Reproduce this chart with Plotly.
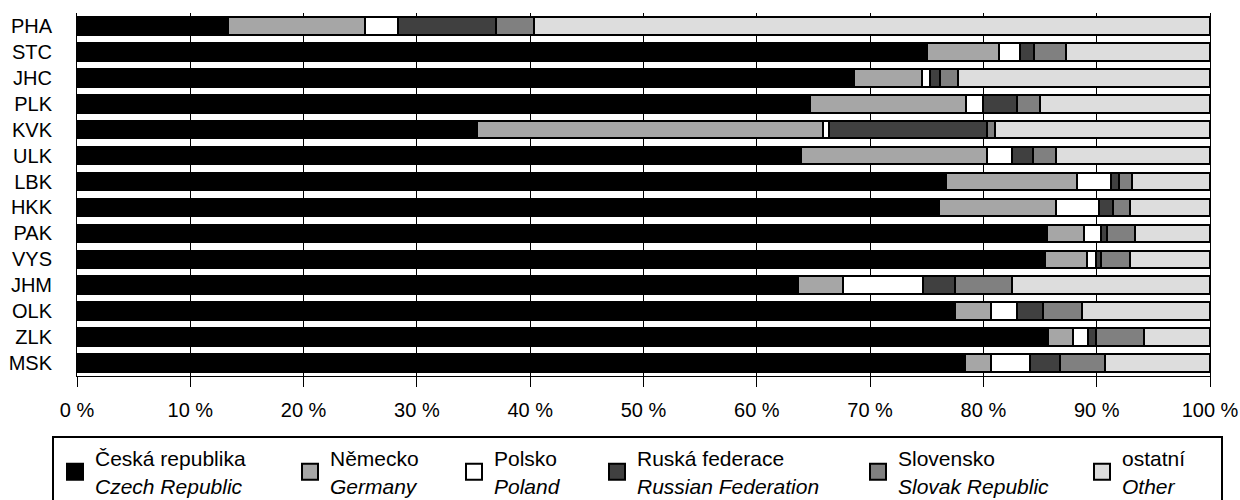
import plotly.graph_objects as go

regions = ["PHA", "STC", "JHC", "PLK", "KVK", "ULK", "LBK", "HKK", "PAK", "VYS", "JHM", "OLK", "ZLK", "MSK"]

czech   = [13.3, 75.0, 68.6, 64.7, 35.3, 63.9, 76.7, 76.1, 85.6, 85.4, 63.6, 77.5, 85.7, 78.4]
germany = [12.1,  6.4,  6.0, 13.8, 30.5, 16.4, 11.6, 10.3,  3.3,  3.7,  4.0,  3.2,  2.2,  2.3]
poland  = [ 2.9,  1.8,  0.7,  1.5,  0.6,  2.2,  3.0,  3.8,  1.5,  0.8,  7.1,  2.3,  1.3,  3.4]
russia  = [ 8.7,  1.3,  0.9,  3.0, 13.9,  1.9,  0.7,  1.2,  0.5,  0.5,  2.8,  2.3,  0.7,  2.7]
slovak  = [ 3.3,  2.8,  1.6,  2.0,  0.7,  2.0,  1.1,  1.5,  2.5,  2.5,  5.0,  3.4,  4.3,  3.9]
other   = [59.7, 12.7, 22.2, 15.0, 19.0, 13.6,  6.9,  7.1,  6.6,  7.1, 17.5, 11.3,  5.8,  9.3]

series_cz = ["Česká republika", "Německo", "Polsko", "Ruská federace", "Slovensko", "ostatní"]
series_en = ["Czech Republic", "Germany", "Poland", "Russian Federation", "Slovak Republic", "Other"]
series_vals = [czech, germany, poland, russia, slovak, other]
colors = ["#000000", "#a6a6a6", "#ffffff", "#404040", "#808080", "#dddddd"]

tick_vals = [0, 10, 20, 30, 40, 50, 60, 70, 80, 90, 100]
tick_text = ["0 %", "10 %", "20 %", "30 %", "40 %", "50 %", "60 %", "70 %", "80 %", "90 %", "100 %"]

FONT = "Arial, Liberation Sans, sans-serif"

# plot area geometry (pixels)
L, R, T, B = 77, 30, 13, 124
W = 1240 - L - R
H = 500 - T - B

fig = go.Figure()
for vals, color, name in zip(series_vals, colors, series_cz):
    fig.add_trace(go.Bar(
        y=regions, x=vals, orientation="h", name=name,
        marker=dict(color=color, line=dict(color="#000000", width=2)),
        showlegend=False,
    ))

# legend entries (one legend per entry so they can be placed like the original)
legend_px = [55, 290, 454, 597, 858, 1082]
layout_legends = {}
for i, (cz, en, color) in enumerate(zip(series_cz, series_en, colors)):
    lname = "legend" if i == 0 else f"legend{i+1}"
    fig.add_trace(go.Scatter(
        x=[None], y=[None], mode="markers", name=f"{cz}<br><i>{en}</i>",
        marker=dict(symbol="square", size=16, color=color, line=dict(color="#000000", width=2)),
        legend=lname, showlegend=True,
    ))
    layout_legends[lname] = dict(
        x=(legend_px[i] - L) / W, xanchor="left",
        y=(500 - B - 438) / H, yanchor="top",
        bgcolor="rgba(0,0,0,0)", borderwidth=0, valign="middle",
        font=dict(family=FONT, size=21, color="#000000"),
        itemclick=False, itemdoubleclick=False,
    )

fig.update_layout(
    width=1240, height=500,
    margin=dict(l=L, r=R, t=T, b=B, pad=0, autoexpand=False),
    barmode="stack", bargap=0.32,
    plot_bgcolor="#ffffff", paper_bgcolor="#ffffff",
    font=dict(family=FONT, size=20, color="#000000"),
    xaxis=dict(
        range=[0, 100], tickvals=tick_vals, ticktext=tick_text,
        showgrid=True, gridcolor="#000000", gridwidth=1,
        zeroline=False, showline=True, linecolor="#000000", linewidth=1,
        ticks="outside", ticklen=10, tickcolor="#000000", tickwidth=1,
        ticklabelstandoff=6, automargin=False,
        tickfont=dict(family=FONT, size=20, color="#000000"),
        fixedrange=True,
    ),
    yaxis=dict(
        categoryorder="array", categoryarray=regions, autorange="reversed",
        showgrid=False, zeroline=False, showline=True, linecolor="#000000", linewidth=1,
        mirror=True, ticks="", ticklabelstandoff=20, automargin=False,
        tickfont=dict(family=FONT, size=20, color="#000000"),
        fixedrange=True,
    ),
    shapes=[dict(
        type="rect", xref="paper", yref="paper",
        x0=(53 - L) / W, x1=(1222 - L) / W,
        y0=(500 - B - 437) / H, y1=(500 - B - 520) / H,
        line=dict(color="#000000", width=2), fillcolor="rgba(0,0,0,0)",
    )],
    **layout_legends,
)

fig.write_html("out.html", config={"displayModeBar": False},
               post_script="document.body.style.margin='0';document.body.style.padding='0';")
